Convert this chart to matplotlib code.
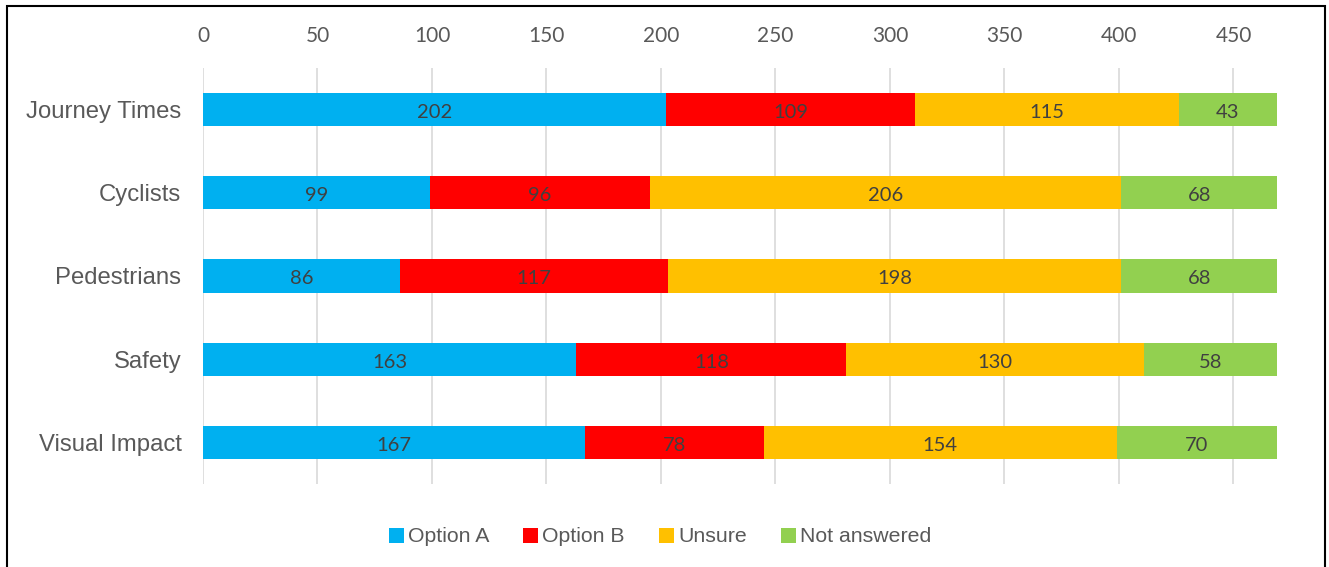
import numpy as np
import matplotlib.pyplot as plt
from matplotlib.patches import Rectangle, Patch

# survey responses per topic
categories = ['Journey Times', 'Cyclists', 'Pedestrians', 'Safety', 'Visual Impact']
option_a = [202, 99, 86, 163, 167]
option_b = [109, 96, 117, 118, 78]
unsure = [115, 206, 198, 130, 154]
not_answered = [43, 68, 68, 58, 70]
series_names = ['Option A', 'Option B', 'Unsure', 'Not answered']
colors = ['#00B0F0', '#FF0000', '#FFC000', '#92D050']
xticks = [0, 50, 100, 150, 200, 250, 300, 350, 400, 450]

label_font = 'Liberation Sans'
num_font = 'Lato'
text_col = '#595959'

fig = plt.figure(figsize=(13.29, 5.67), dpi=100)
ax = fig.add_axes([203/1329, 1-484/567, (1277-203)/1329, (484-68)/567])

y = np.arange(len(categories))
left = np.zeros(len(categories))
for vals, name, col in zip([option_a, option_b, unsure, not_answered], series_names, colors):
    vals = np.array(vals)
    ax.barh(y, vals, left=left, height=0.4, color=col, label=name, zorder=2)
    for yi, (l, v) in enumerate(zip(left, vals)):
        # nudge down a little so digits sit in the middle of the bar
        ax.text(l + v/2, yi + 0.035, str(v), ha='center', va='center', fontsize=14.5,
                family=num_font, color='#404040', zorder=3)
    left = left + vals

ax.set_xlim(0, 469)
ax.set_ylim(len(categories) - 0.5, -0.5)
ax.set_yticks(y)
ax.set_yticklabels(categories, family=label_font, fontsize=17.2, color=text_col)
ax.set_xticks(xticks)
ax.set_xticklabels([str(t) for t in xticks], family=num_font, fontsize=15, color=text_col)
ax.xaxis.tick_top()
ax.tick_params(axis='both', length=0)
ax.tick_params(axis='x', pad=16.2)
ax.tick_params(axis='y', pad=15.5)
for s in ax.spines.values():
    s.set_visible(False)
ax.grid(axis='x', color='#D9D9D9', linewidth=1.2, zorder=0)
ax.set_axisbelow(True)

handles = [Patch(facecolor=c, label=n) for n, c in zip(series_names, colors)]
leg = fig.legend(handles=handles, loc='center', bbox_to_anchor=(0.4965, 1-537/567), ncol=4,
                 frameon=False, prop={'family': label_font, 'size': 15.3},
                 handlelength=0.7, handleheight=0.7, handletextpad=0.2, columnspacing=1.6)
for t in leg.get_texts():
    t.set_color(text_col)

# outer frame (bottom edge runs off the image)
fig.patches.append(Rectangle((7/1329, -0.05), (1325-7)/1329, 1.05 - 6/567,
                             transform=fig.transFigure, fill=False,
                             edgecolor='black', linewidth=1.5))

fig.savefig('out.png', dpi=100)
